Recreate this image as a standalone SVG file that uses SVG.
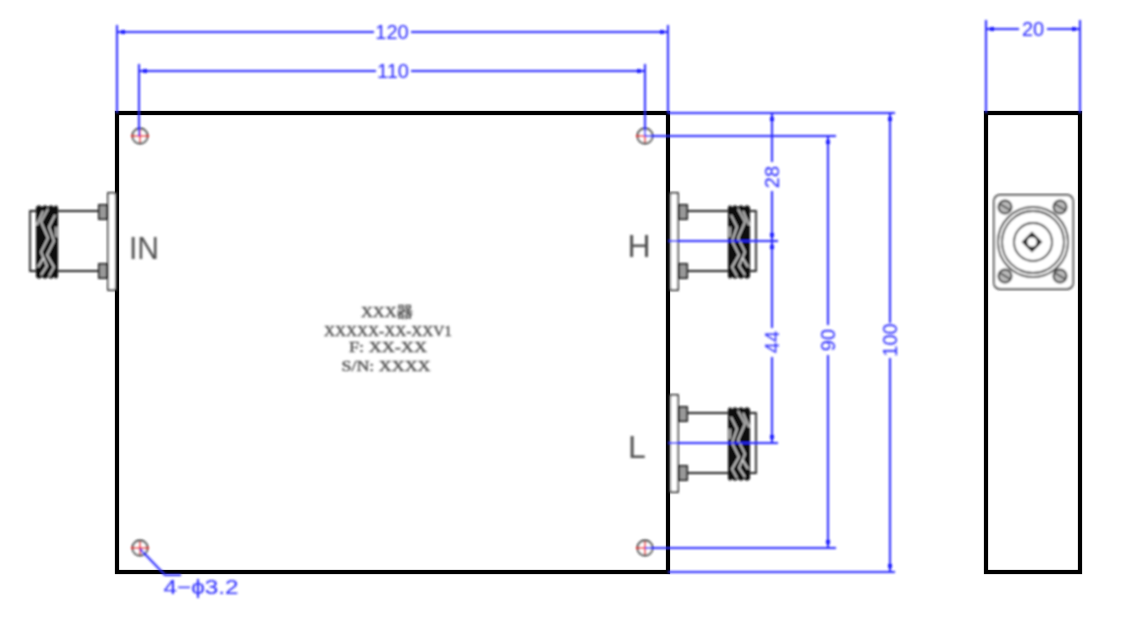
<svg xmlns="http://www.w3.org/2000/svg" width="1136" height="623" viewBox="0 0 1136 623">
<style>
.body{fill:#fff;stroke:#000;stroke-width:4.2}
.thin{fill:none;stroke:#222;stroke-width:1.8}
.plate{fill:#fff;stroke:#333;stroke-width:1.8}
.nut{fill:#999;stroke:#222;stroke-width:2}
.thread{fill:none;stroke:#e4e4e4;stroke-width:1.5}
.dim{fill:none;stroke:#2828ff;stroke-width:2}
.dimA{fill:none;stroke:#2828ff;stroke-width:2;marker-start:url(#a)}
.t{font-family:"Liberation Sans",Arial,sans-serif;font-size:20px;fill:#2828ff;text-anchor:middle}
.lab{font-family:"Liberation Sans",Arial,sans-serif;font-size:32px;fill:#505050;text-anchor:middle}
.plt{font-family:"Liberation Serif","Noto Sans CJK SC",serif;font-size:15px;fill:#444;stroke:#666;stroke-width:.5;text-anchor:middle}
.hole{fill:#fff;stroke:#222;stroke-width:1.8}
.cross{fill:none;stroke:#f01010;stroke-width:1.7}
</style>
<defs>
<marker id="a" viewBox="0 0 8 5" refX="0" refY="2.5" markerWidth="8" markerHeight="5" markerUnits="userSpaceOnUse" orient="auto"><path d="M1 2.5L4 0.5H7V4.5H4Z" fill="#1414ff"/></marker>
<filter id="soft" filterUnits="userSpaceOnUse" x="0" y="0" width="1136" height="623"><feGaussianBlur stdDeviation="0.8"/></filter>
<filter id="softer" filterUnits="userSpaceOnUse" x="0" y="0" width="1136" height="623"><feGaussianBlur stdDeviation="0.5"/></filter>
<g id="conn">
<rect class="plate" x="0" y="0" width="8" height="93"/>
<path class="plate" d="M0 0V-2H8V4M0 93V95H8V89"/>
<path class="nut" d="M9 10H17V24H9ZM9 69H17V83H9Z"/>
<path class="thin" d="M17 16H58M17 76H58M58 16H86V76H58"/>
<path d="M58 12L60 10L62 12L65 10L68 12L71 10L74 12L77 10L80 12V82L77 84L74 82L71 84L68 82L65 84L62 82L60 84L58 82Z" fill="#101010"/>
<path class="thread" d="M61 20L67 32L62 46L69 60L62 72L67 81M68 14L75 27L68 43L75 57L69 71L75 80M73 16L79 30M72 62L78 72M60 32L60 42"/>
</g>
<g id="screw"><circle r="6.5" fill="#bbb" stroke="#333" stroke-width="2"/><path d="M-5-3L5 3" stroke="#444" stroke-width="1.5"/></g>
<g id="mh"><circle class="hole" r="7.5"/><path class="cross" d="M-9 0H9M0-6V6"/></g>
</defs>
<rect width="1136" height="623" fill="#fff"/>
<g filter="url(#softer)">
<g id="main-body"><rect class="body" x="117" y="113" width="551" height="459"/></g>
<g id="side-body"><rect class="body" x="986" y="113" width="94" height="459"/></g>
</g>
<g filter="url(#soft)">
<g id="mount-holes">
<use href="#mh" x="140" y="136"/><use href="#mh" x="645" y="136"/><use href="#mh" x="140" y="548"/><use href="#mh" x="645" y="548"/>
</g>
<g id="connector-in"><use href="#conn" transform="translate(116,195) scale(-1,1)"/><text class="lab" x="144" y="259" textLength="30" lengthAdjust="spacingAndGlyphs">IN</text></g>
<g id="connector-h"><use href="#conn" transform="translate(670,195)"/><text class="lab" x="639" y="257">H</text></g>
<g id="connector-l"><use href="#conn" transform="translate(670,397)"/><text class="lab" x="637" y="458">L</text></g>
<g id="nameplate">
<text class="plt" x="387" y="317" textLength="52" lengthAdjust="spacingAndGlyphs">XXX器</text>
<text class="plt" x="388" y="336" textLength="128" lengthAdjust="spacingAndGlyphs">XXXXX-XX-XXV1</text>
<text class="plt" x="388" y="352" textLength="78" lengthAdjust="spacingAndGlyphs">F:  XX-XX</text>
<text class="plt" x="386" y="371" textLength="89" lengthAdjust="spacingAndGlyphs">S/N:  XXXX</text>
</g>
<g id="side-connector">
<rect class="plate" x="994" y="195" width="79" height="94" rx="6"/>
<circle class="thin" cx="1033" cy="242" r="35"/><circle class="thin" cx="1033" cy="242" r="31"/><circle class="thin" cx="1033" cy="242" r="19"/>
<circle cx="1032" cy="242" r="6" fill="none" stroke="#111" stroke-width="2.4"/>
<path d="M1032 233L1041 242L1032 251L1023 242Z" fill="none" stroke="#222" stroke-width="2"/>
<use href="#screw" x="1005" y="207"/><use href="#screw" x="1060" y="207"/><use href="#screw" x="1005" y="276"/><use href="#screw" x="1060" y="276"/>
</g>
<g id="connectors">
<path class="dim" d="M117 25V113M668 25V113M139 64V136M645 64V136M986 20V113M1080 20V113"/>
<path class="dim" d="M668 113H895M645 136H836M645 548H836M668 572H895M668 241H778M668 443H778"/>
<path class="dimA" d="M118 32H374"/><path class="dimA" d="M667 32H411"/>
<path class="dimA" d="M140 71H376"/><path class="dimA" d="M644 71H411"/>
<path class="dimA" d="M987 29H1019"/><path class="dimA" d="M1079 29H1047"/>
<path class="dimA" d="M772 114V162"/><path class="dimA" d="M772 240V191"/>
<path class="dimA" d="M772 242V328"/><path class="dimA" d="M772 442V357"/>
<path class="dimA" d="M828 137V325"/><path class="dimA" d="M828 547V355"/>
<path class="dimA" d="M890 114V323"/><path class="dimA" d="M890 571V358"/>
<path class="dim" d="M140 549L165 575H181"/>
<text class="t" x="392" y="39">120</text>
<text class="t" x="393" y="78">110</text>
<text class="t" x="1033" y="36">20</text>
<text class="t" transform="translate(779,177) rotate(-90)">28</text>
<text class="t" transform="translate(779,342) rotate(-90)">44</text>
<text class="t" transform="translate(835,340) rotate(-90)">90</text>
<text class="t" transform="translate(897,340) rotate(-90)">100</text>
<text class="t" x="201" y="594" textLength="75" lengthAdjust="spacingAndGlyphs">4−ϕ3.2</text>
</g>
</g>
</svg>
